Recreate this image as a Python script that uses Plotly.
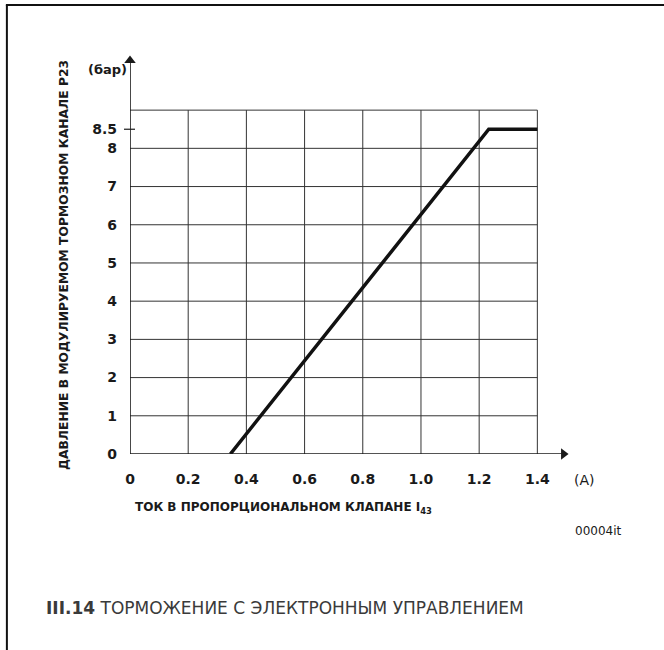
import plotly.graph_objects as go

# Pressure in the modulated brake channel vs. proportional valve current
current_a = [0.345, 1.233, 1.4]
pressure_bar = [0.0, 8.5, 8.5]

x_ticks = [0, 0.2, 0.4, 0.6, 0.8, 1.0, 1.2, 1.4]
x_tick_text = ["0", "0.2", "0.4", "0.6", "0.8", "1.0", "1.2", "1.4"]
y_ticks = [0, 1, 2, 3, 4, 5, 6, 7, 8, 8.5]
y_tick_text = ["0", "1", "2", "3", "4", "5", "6", "7", "8", "8.5"]

grid_x = [0.2, 0.4, 0.6, 0.8, 1.0, 1.2, 1.4]
grid_y = [1, 2, 3, 4, 5, 6, 7, 8, 9]
grid_x_max = 1.4
grid_y_max = 9

y_title = "ДАВЛЕНИЕ В МОДУЛИРУЕМОМ ТОРМОЗНОМ КАНАЛЕ P23"
x_title = "ТОК В ПРОПОРЦИОНАЛЬНОМ КЛАПАНЕ I<sub>43</sub>"
caption = "<b>III.14</b> ТОРМОЖЕНИЕ С ЭЛЕКТРОННЫМ УПРАВЛЕНИЕМ"

W, H = 664, 650
X_RANGE = [0, 1.55]
Y_RANGE = [0, 10.6]
ML, MR, MT, MB = 130, 83.4, 48.9, 196
PW = W - ML - MR
PH = H - MT - MB

X_AXIS_END = 1.49
Y_AXIS_END = 10.3


def px(x):
    return (x - ML) / PW


def py(y):
    return (H - MB - y) / PH


BOLD = "DejaVu Sans"
INK = "#1a1a1a"

fig = go.Figure()

# curve
fig.add_trace(go.Scatter(
    x=current_a, y=pressure_bar, mode="lines",
    line=dict(color="#111111", width=3.5),
    hoverinfo="skip", showlegend=False,
))

# arrow heads at the ends of both axes
fig.add_trace(go.Scatter(
    x=[X_AXIS_END, 0], y=[0, Y_AXIS_END], mode="markers",
    marker=dict(symbol=["triangle-right", "triangle-up"], size=10, color=INK,
                line=dict(width=0)),
    cliponaxis=False, hoverinfo="skip", showlegend=False,
))

shapes = []
for gx in grid_x:
    shapes.append(dict(type="line", xref="x", yref="y", x0=gx, x1=gx, y0=0, y1=grid_y_max,
                       line=dict(color="#333333", width=1), layer="below"))
for gy in grid_y:
    shapes.append(dict(type="line", xref="x", yref="y", x0=0, x1=grid_x_max, y0=gy, y1=gy,
                       line=dict(color="#333333", width=1), layer="below"))

# axis lines
shapes.append(dict(type="line", xref="x", yref="y", x0=0, x1=X_AXIS_END, y0=0, y1=0,
                   line=dict(color=INK, width=1.6)))
shapes.append(dict(type="line", xref="x", yref="y", x0=0, x1=0, y0=0, y1=Y_AXIS_END,
                   line=dict(color=INK, width=1.6)))

# small tick marking 8.5 on the pressure axis
y85 = (8.5 - Y_RANGE[0]) / (Y_RANGE[1] - Y_RANGE[0])
shapes.append(dict(type="line", xref="paper", yref="paper", x0=px(124), x1=px(135), y0=y85, y1=y85,
                   line=dict(color=INK, width=1.2)))

# page frame (left and top edges)
shapes.append(dict(type="line", xref="paper", yref="paper", x0=px(7), x1=px(7), y0=py(5), y1=py(652),
                   line=dict(color="#111111", width=2)))
shapes.append(dict(type="line", xref="paper", yref="paper", x0=px(6), x1=px(666), y0=py(5), y1=py(5),
                   line=dict(color="#111111", width=2)))

annotations = [
    dict(x=px(64), y=py(265), xref="paper", yref="paper", text=f"<b>{y_title}</b>",
         textangle=-90, showarrow=False, xanchor="center", yanchor="middle",
         font=dict(family=BOLD, size=12.3, color=INK)),
    dict(x=px(108), y=py(69), xref="paper", yref="paper", text="<b>(бар)</b>",
         showarrow=False, xanchor="center", yanchor="middle",
         font=dict(family=BOLD, size=13, color=INK)),
    dict(x=px(584), y=py(480), xref="paper", yref="paper", text="(A)",
         showarrow=False, xanchor="center", yanchor="middle",
         font=dict(family="DejaVu Sans", size=14, color=INK)),
    dict(x=px(133), y=py(508), xref="paper", yref="paper", text=f"<b>{x_title}</b>",
         showarrow=False, xanchor="left", yanchor="middle",
         font=dict(family=BOLD, size=12, color=INK)),
    dict(x=px(598), y=py(531), xref="paper", yref="paper", text="00004it",
         showarrow=False, xanchor="center", yanchor="middle",
         font=dict(family="DejaVu Sans", size=12, color=INK)),
    dict(x=px(44), y=py(608), xref="paper", yref="paper", text=caption,
         showarrow=False, xanchor="left", yanchor="middle",
         font=dict(family="DejaVu Sans", size=17, color="#3a3a3a")),
]

fig.update_layout(
    width=W, height=H,
    margin=dict(l=ML, r=MR, t=MT, b=MB, pad=0),
    paper_bgcolor="white", plot_bgcolor="white",
    shapes=shapes, annotations=annotations,
    xaxis=dict(range=X_RANGE, tickvals=x_ticks, ticktext=x_tick_text,
               showgrid=False, zeroline=False, showline=False, ticks="",
               ticklabelstandoff=15,
               tickfont=dict(family=BOLD, size=14, color=INK, weight="bold")),
    yaxis=dict(range=Y_RANGE, tickvals=y_ticks, ticktext=y_tick_text,
               showgrid=False, zeroline=False, showline=False, ticks="",
               ticklabelstandoff=12,
               tickfont=dict(family=BOLD, size=14, color=INK, weight="bold")),
)

fig.write_html("out.html")
